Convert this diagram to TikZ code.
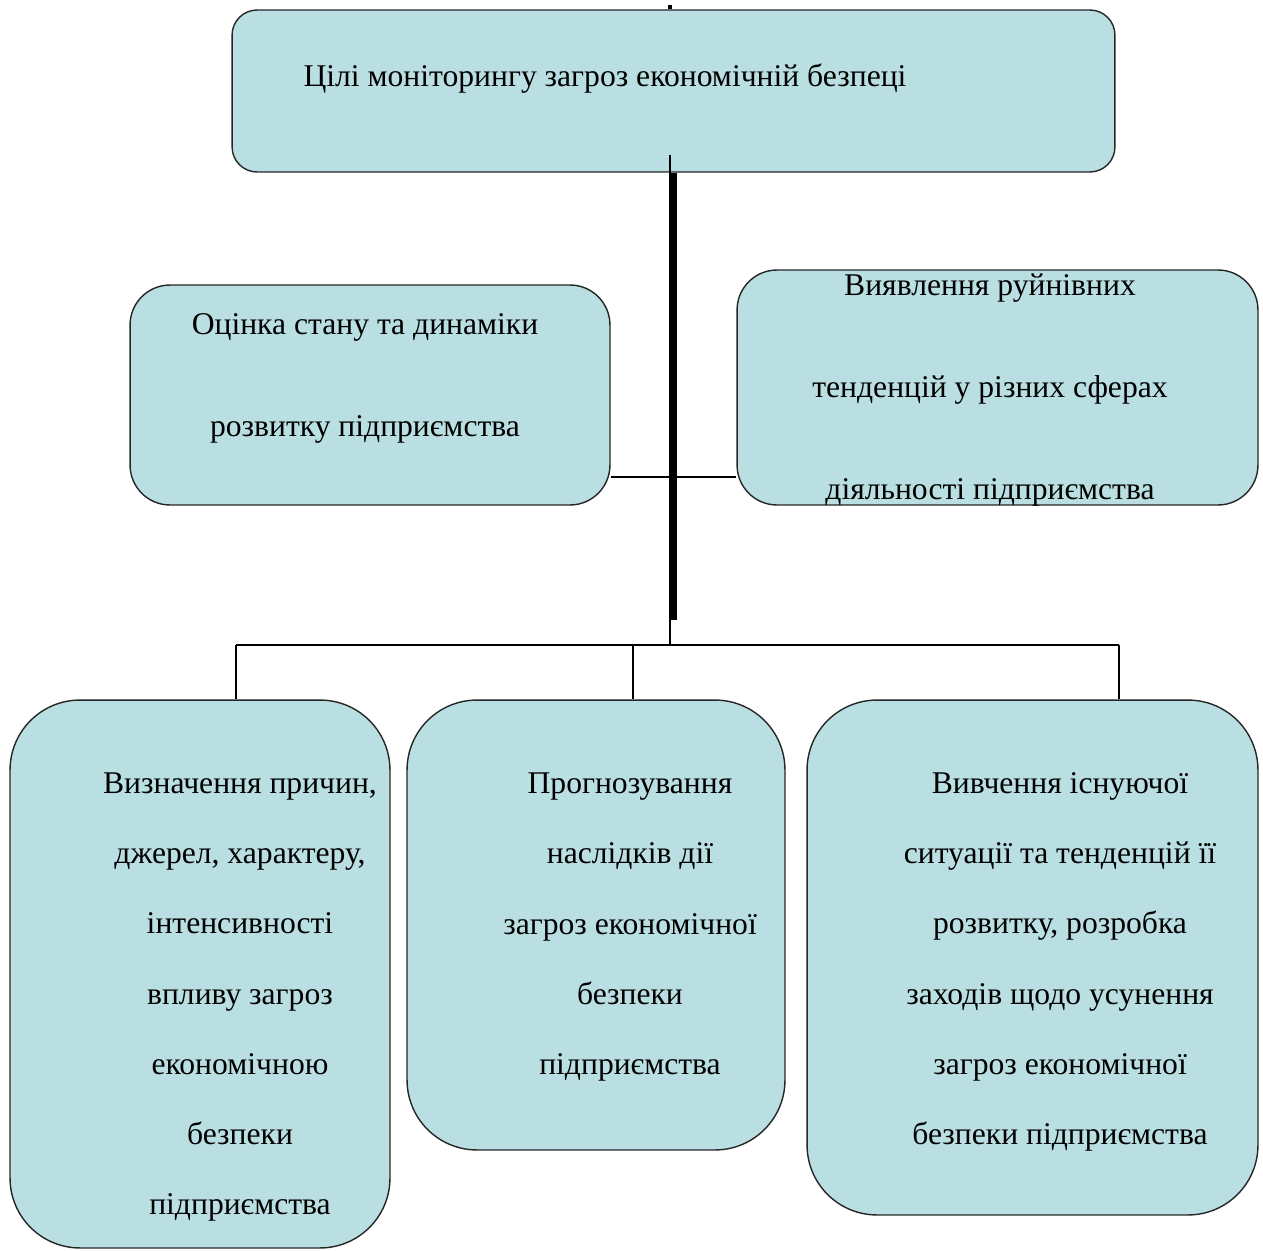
\documentclass[tikz,border=0pt]{standalone}
\usepackage{fontspec}
\setmainfont{Liberation Serif}
\usetikzlibrary{calc}
\definecolor{boxfill}{HTML}{BADFE3}

\begin{document}
\begin{tikzpicture}[x=0.02cm, y=-0.02cm,
    box/.style={draw=black!85, fill=boxfill, line width=0.8pt, minimum width=#1},
    txt/.style={align=center, font=\fontsize{18}{40}\selectfont},
    wide/.style={align=center, font=\fontsize{18}{58}\selectfont},
    link/.style={line width=1.2pt}]
  \useasboundingbox (0,0) rectangle (1263,1250);

  \node[box=17.66cm, minimum height=3.24cm, rounded corners=0.5cm] (top) at (673.5,91) {};
  \node[box=9.6cm, minimum height=4.4cm, rounded corners=0.8cm] (lm) at (370,395) {};
  \node[box=10.42cm, minimum height=4.7cm, rounded corners=0.8cm] (rm) at (997.5,387.5) {};
  \node[box=7.6cm, minimum height=10.96cm, rounded corners=1.4cm] (bl) at (200,974) {};
  \node[box=7.56cm, minimum height=9cm, rounded corners=1.4cm] (bm) at (596,925) {};
  \node[box=9.02cm, minimum height=10.3cm, rounded corners=1.4cm] (br) at (1032.5,957.5) {};

  \node[txt] (toptxt) at (605,79) {Цілі моніторингу загроз економічній безпеці};
  \node[wide] (lmtxt) at (365,378) {Оцінка стану та динаміки\\розвитку підприємства};
  \node[wide] (rmtxt) at (990,390) {Виявлення руйнівних\\тенденцій у різних сферах\\діяльності підприємства};
  \node[txt] (bltxt) at (240,997) {Визначення причин,\\джерел, характеру,\\інтенсивності\\впливу загроз\\економічною\\безпеки\\підприємства};
  \node[txt] (bmtxt) at (630,927) {Прогнозування\\наслідків дії\\загроз економічної\\безпеки\\підприємства};
  \node[txt] (brtxt) at (1060,962) {Вивчення існуючої\\ситуації та тенденцій її\\розвитку, розробка\\заходів щодо усунення\\загроз економічної\\безпеки підприємства};

  \coordinate (stem) at (670,155);
  \coordinate (hub) at (670,645);
  \coordinate (join) at (670,477);
  \coordinate (d1) at (236,645);
  \coordinate (d2) at (633,645);
  \coordinate (d3) at (1119,645);

  \draw[line width=2.5pt] (670,5) -- (top.north -| stem);
  \draw[link] (stem) -- (hub);
  \draw[line width=4.5pt] ($(top.south -| stem)+(3,0)$) -- (673,620);
  \draw[link] (lm.east |- join) -- (rm.west |- join);
  \draw[link] (d1) -- (d3);
  \draw[link] (d1) -- (d1 |- bl.north);
  \draw[link] (d2) -- (d2 |- bm.north);
  \draw[link] (d3) -- (d3 |- br.north);
\end{tikzpicture}
\end{document}
